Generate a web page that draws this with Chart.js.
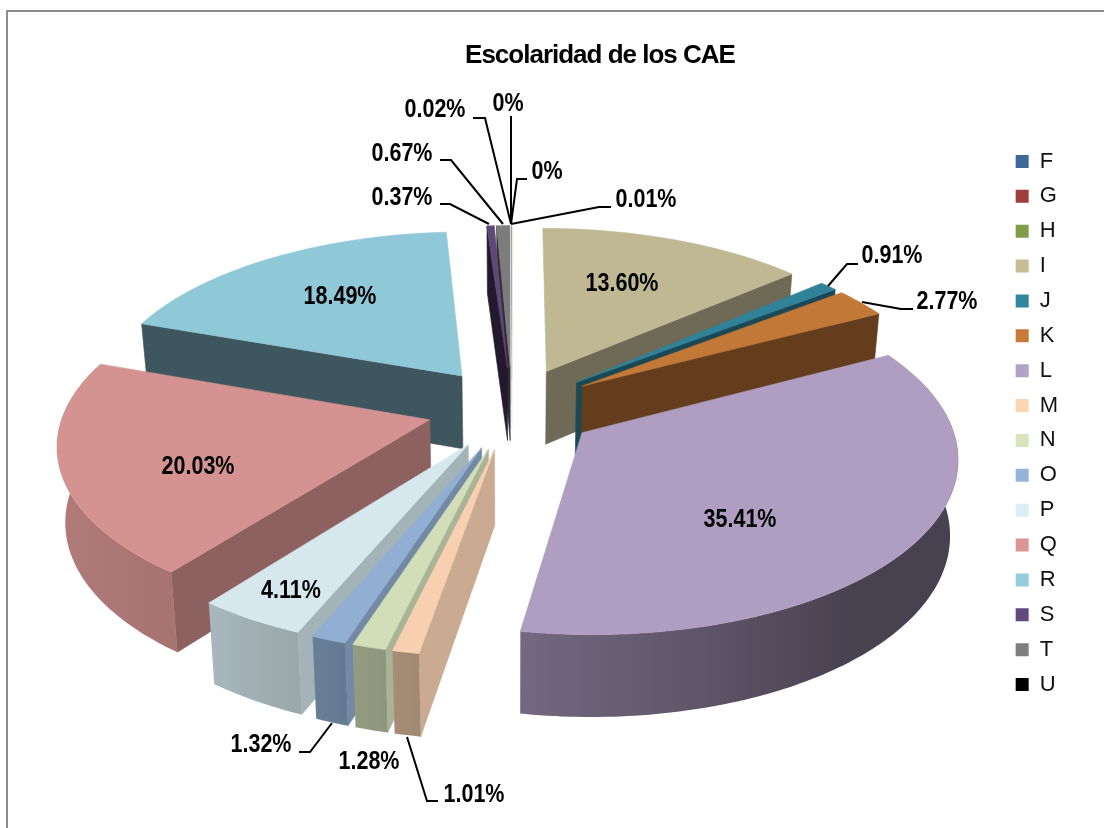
<!DOCTYPE html>
<html lang="es">
<head>
<meta charset="utf-8">
<title>Escolaridad de los CAE</title>
<script src="https://cdn.jsdelivr.net/npm/chart.js@4/dist/chart.umd.min.js"></script>
<style>
html,body{margin:0;padding:0;background:#fff;overflow:hidden}
#frame{position:absolute;left:6px;top:10px;width:1098px;height:818px;border-left:2px solid #8c8c8c;border-top:2px solid #8c8c8c;box-sizing:border-box}
canvas{position:absolute;left:0;top:0}
</style>
</head>
<body>
<div id="frame"></div>
<canvas id="c" width="1104" height="828"></canvas>
<script>
const categories = ['F','G','H','I','J','K','L','M','N','O','P','Q','R','S','T','U'];
const shares = [0, 0, 0.01, 13.60, 0.91, 2.77, 35.41, 1.01, 1.28, 1.32, 4.11, 20.03, 18.49, 0.37, 0.67, 0.02];
const sliceColors = ['#3F6797','#9E3D3D','#7F9C4B','#C4BD97','#31859C','#C77B38','#B3A2C7','#FCD5B5','#D7E4BD','#95B3D7','#DBEEF4','#D99694','#93CDDD','#604A7B','#7F7F7F','#000000'];
const chartTitle = 'Escolaridad de los CAE';

// text centre (x, y) of each value label, with its leader polyline when it has one
const labelLayout = {
  F:{at:[508,104], leader:[[511,116],[511,224]]},
  G:{at:[547,172], leader:[[527,179],[517,179],[511,224]]},
  H:{at:[646,200], leader:[[611,207],[599,207],[511,224]]},
  I:{at:[622,284]},
  J:{at:[892,256], leader:[[858,264],[847,264],[828,286]]},
  K:{at:[947,302], leader:[[913,309],[901,309],[862,302]]},
  L:{at:[740,520]},
  M:{at:[474,795], leader:[[438,801],[427,801],[407,737]]},
  N:{at:[369,762]},
  O:{at:[261,745], leader:[[299,752],[310,752],[332,723]]},
  P:{at:[291,591]},
  Q:{at:[198,467]},
  R:{at:[340,297]},
  S:{at:[402,198], leader:[[440,204],[450,204],[489,224]]},
  T:{at:[402,154], leader:[[440,160],[451,160],[503,224]]},
  U:{at:[435,110], leader:[[473,118],[485,118],[511,224]]}
};

// 3D view used to project the library's arc angles
const view = {cx:512, cy:408, rx:365, ry:350, explode:85, tilt:0.485, persp:0.00036, depth:74, floor:0.982, step:Math.PI/180, wallFrom:72, wallTo:288};
const radialShade = [[90,.82],[100,.8],[113,.75],[127,.65],[139,.56],[152,.5],[200,.42],[270,.35]];
const rimShade = [[0,.4],[140,.4],[189,.64],[200,.69],[217,.77],[250,.82],[270,.85],[360,.85]];

function lookup(tbl, deg){
  deg = ((deg % 360) + 360) % 360;
  if (deg <= tbl[0][0]) return tbl[0][1];
  for (let i = 1; i < tbl.length; i++) {
    if (deg <= tbl[i][0]) {
      const t = (deg - tbl[i-1][0]) / (tbl[i][0] - tbl[i-1][0]);
      return tbl[i-1][1] + t * (tbl[i][1] - tbl[i-1][1]);
    }
  }
  return tbl[tbl.length-1][1];
}
function shade(hex, f){
  const n = parseInt(hex.slice(1), 16);
  return 'rgb(' + [(n>>16)&255, (n>>8)&255, n&255].map(v => Math.round(v*f)).join(',') + ')';
}
function project(X, Y, h){
  const w = 1 / (1 - view.persp * Y);
  const s = h ? view.floor : 1;
  return [view.cx + X*w*s, view.cy + view.tilt*Y*w*s + (h||0)*w];
}
function poly(ctx, pts, fill, seal){
  ctx.beginPath();
  pts.forEach((p,i) => i ? ctx.lineTo(p[0],p[1]) : ctx.moveTo(p[0],p[1]));
  ctx.closePath();
  ctx.fillStyle = fill;
  ctx.fill();
  if (seal) { ctx.strokeStyle = fill; ctx.lineWidth = .6; ctx.stroke(); }
}

const pie3d = {
  id:'pie3d',
  beforeDraw(chart){ chart.ctx.letterSpacing = '-1px'; },
  beforeDatasetsDraw(chart){
    const ctx = chart.ctx;
    ctx.letterSpacing = '0px';
    const arcs = chart.getDatasetMeta(0).data.map((el,i) => {
      const a0 = el.startAngle + Math.PI/2, a1 = el.endAngle + Math.PI/2, m = (a0+a1)/2;
      return {i, a0, a1, ox:Math.sin(m)*view.explode, oy:-Math.cos(m)*view.explode};
    }).filter(a => a.a1 - a.a0 > 1e-5).sort((p,q) => p.oy - q.oy);
    const rim = (a,t) => [a.ox + Math.sin(t)*view.rx, a.oy - Math.cos(t)*view.ry];
    arcs.forEach(a => {
      const col = sliceColors[a.i];
      const apex = [a.ox, a.oy];
      const seal = a.a1 - a.a0 > 0.02;
      // radial walls that face the viewer
      [[a.a0, a.a0*180/Math.PI - 90],[a.a1, a.a1*180/Math.PI + 90]].forEach(([t,n]) => {
        if (-Math.cos(n*Math.PI/180) <= 0) return;
        const e = rim(a,t);
        poly(ctx, [project(...apex), project(...e), project(e[0],e[1],view.depth), project(apex[0],apex[1],view.depth)], shade(col, lookup(radialShade,n)), seal);
      });
      // front part of the outer wall: one path of strips, shaded across its width
      const lo = Math.max(a.a0, view.wallFrom*Math.PI/180), hi = Math.min(a.a1, view.wallTo*Math.PI/180);
      if (hi > lo) {
        const ts = [];
        for (let t = lo; t < hi; t += view.step) ts.push(t);
        ts.push(hi);
        const inRange = ts.filter(t => t*180/Math.PI >= 100 && t*180/Math.PI <= 262);
        const stops = (inRange.length > 1 ? inRange : ts)
          .map(t => [project(...rim(a,t))[0], shade(col, lookup(rimShade,t*180/Math.PI))])
          .sort((p,q) => p[0]-q[0]);
        const x0 = stops[0][0], x1 = stops[stops.length-1][0];
        let fill = stops[0][1];
        if (x1 - x0 > .5) {
          fill = ctx.createLinearGradient(x0,0,x1,0);
          stops.forEach(s => fill.addColorStop((s[0]-x0)/(x1-x0), s[1]));
        }
        ctx.beginPath();
        for (let k = 0; k + 1 < ts.length; k++) {
          const e0 = rim(a,ts[k]), e1 = rim(a,ts[k+1]);
          [project(...e0), project(...e1), project(e1[0],e1[1],view.depth), project(e0[0],e0[1],view.depth)]
            .forEach((p,j) => j ? ctx.lineTo(p[0],p[1]) : ctx.moveTo(p[0],p[1]));
          ctx.closePath();
        }
        ctx.fillStyle = fill;
        ctx.fill();
      }
      // top face
      const top = [project(...apex)];
      for (let t = a.a0; t < a.a1; t += view.step) top.push(project(...rim(a,t)));
      top.push(project(...rim(a,a.a1)));
      poly(ctx, top, shade(col, .975), seal);
    });
    return false;
  },
  afterDraw(chart){
    const ctx = chart.ctx;
    ctx.save();
    ctx.letterSpacing = '0px';
    ctx.strokeStyle = '#000'; ctx.lineWidth = 2; ctx.lineJoin = 'miter';
    categories.forEach(cat => {
      const l = labelLayout[cat].leader;
      if (!l) return;
      ctx.beginPath();
      l.forEach((p,i) => i ? ctx.lineTo(p[0],p[1]) : ctx.moveTo(p[0],p[1]));
      ctx.stroke();
    });
    ctx.fillStyle = '#000';
    ctx.font = 'bold 25px "Liberation Sans", Arial, sans-serif';
    ctx.textAlign = 'center'; ctx.textBaseline = 'middle';
    categories.forEach((cat,i) => {
      const v = shares[i], at = labelLayout[cat].at;
      ctx.save();
      ctx.translate(at[0], at[1]);
      ctx.scale(.86, 1);
      ctx.fillText(v === 0 ? '0%' : v.toFixed(2) + '%', 0, 0);
      ctx.restore();
    });
    ctx.restore();
  }
};

new Chart(document.getElementById('c'), {
  type:'pie',
  data:{labels:categories, datasets:[{data:shares, backgroundColor:sliceColors, borderWidth:0}]},
  plugins:[pie3d],
  options:{
    responsive:false, animation:false,
    layout:{padding:{left:132, right:36, top:18, bottom:0}},
    plugins:{
      tooltip:{enabled:false},
      title:{display:true, text:chartTitle, color:'#000', padding:{top:22,bottom:10},
        font:{family:'"Liberation Sans", Arial, sans-serif', size:26, weight:'bold'}},
      legend:{position:'right', labels:{boxWidth:13, boxHeight:13, padding:12.87, color:'#111',
        font:{family:'"Liberation Sans", Arial, sans-serif', size:22}}}
    }
  }
});
</script>
</body>
</html>
